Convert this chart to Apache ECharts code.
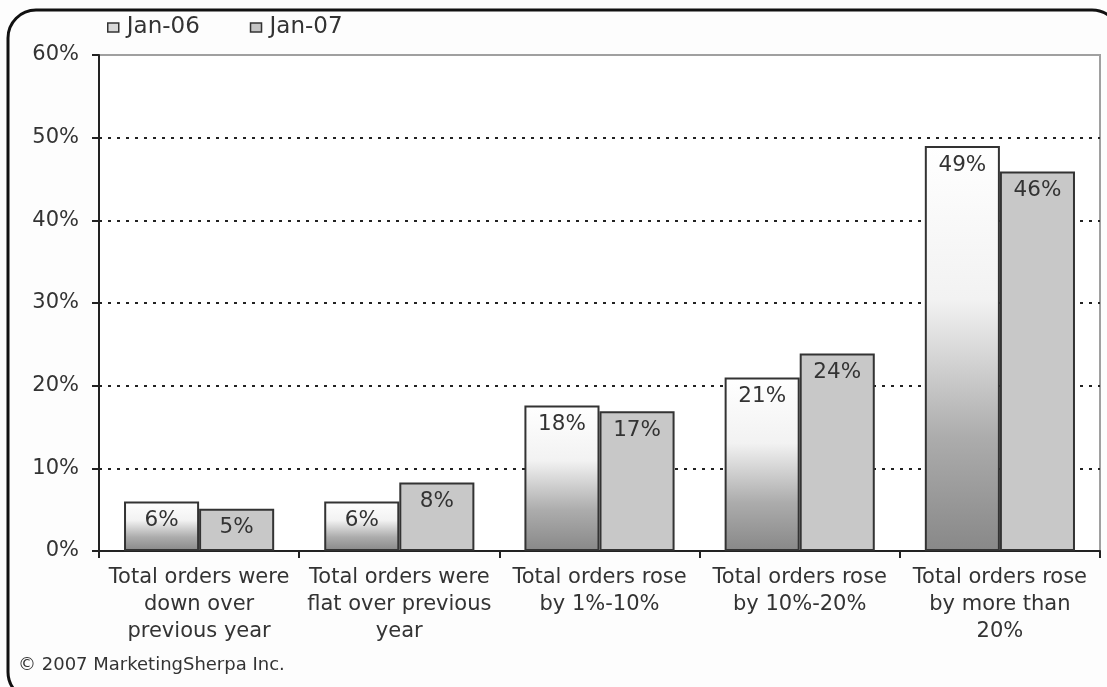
<!DOCTYPE html>
<html>
<head>
<meta charset="utf-8">
<script src="https://cdn.jsdelivr.net/npm/echarts@6/dist/echarts.min.js"></script>
<style>
html,body{margin:0;padding:0;background:#fdfdfd;}
#c{width:1107px;height:687px;}
</style>
</head>
<body>
<div id="c"></div>
<script>
const categories = [
  'Total orders were\ndown over\nprevious year',
  'Total orders were\nflat over previous\nyear',
  'Total orders rose\nby 1%-10%',
  'Total orders rose\nby 10%-20%',
  'Total orders rose\nby more than\n20%'
];
const seriesNames = ['Jan-06', 'Jan-07'];
const jan06 = [6.0, 6.0, 17.6, 21.0, 49.0];
const jan07 = [5.1, 8.3, 16.9, 23.9, 45.9];
const yTicks = [0, 10, 20, 30, 40, 50, 60];

const FONT = '"DejaVu Sans", Verdana, sans-serif';
const chart = echarts.init(document.getElementById('c'), null, {renderer: 'canvas'});

const grad06 = new echarts.graphic.LinearGradient(0, 0, 0, 1, [
  {offset: 0, color: '#ffffff'},
  {offset: 0.38, color: '#f2f2f2'},
  {offset: 0.72, color: '#acacac'},
  {offset: 1, color: '#888888'}
]);

const labelCfg = {
  show: true,
  position: 'insideTop',
  distance: 8,
  fontFamily: FONT,
  fontSize: 21.5,
  color: '#333',
  formatter: p => Math.round(p.value) + '%'
};

chart.setOption({
  animation: false,
  backgroundColor: '#fdfdfd',
  graphic: [
    {type: 'rect', shape: {x: 8, y: 10, width: 1112, height: 690, r: 28},
     style: {fill: 'none', stroke: '#111', lineWidth: 3}, z: 100},
    {type: 'text', left: 18, top: 656,
     style: {text: '© 2007 MarketingSherpa Inc.', fontFamily: FONT, fontSize: 18, fill: '#333'}}
  ],
  legend: {
    left: 102, top: 11,
    itemWidth: 11, itemHeight: 9, itemGap: 50,
    icon: 'rect',
    textStyle: {fontFamily: FONT, fontSize: 23, color: '#333', padding: [0, 0, 0, 3]},
    data: [
      {name: seriesNames[0], itemStyle: {color: '#d8d8d8', borderColor: '#333', borderWidth: 1.5}},
      {name: seriesNames[1], itemStyle: {color: '#c4c4c4', borderColor: '#333', borderWidth: 1.5}}
    ]
  },
  grid: {
    left: 99, right: 7, top: 55, bottom: 136,
    show: true, borderColor: '#a0a0a0', borderWidth: 2, backgroundColor: '#ffffff'
  },
  xAxis: {
    type: 'category',
    data: categories,
    axisLine: {lineStyle: {color: '#222', width: 2}},
    axisTick: {show: true, length: 7, lineStyle: {color: '#222', width: 2}},
    axisLabel: {fontFamily: FONT, fontSize: 21, color: '#333', lineHeight: 27, margin: 13, interval: 0}
  },
  yAxis: {
    type: 'value',
    min: 0, max: 60, interval: 10,
    axisLine: {show: true, lineStyle: {color: '#222', width: 2}},
    axisTick: {show: true, length: 7, lineStyle: {color: '#222', width: 2}},
    axisLabel: {fontFamily: FONT, fontSize: 21, color: '#333', margin: 20,
      formatter: v => yTicks.includes(v) ? v + '%' : ''},
    splitLine: {show: true, showMaxLine: false, lineStyle: {color: '#222', width: 2, type: [3, 6]}}
  },
  series: [
    {
      name: seriesNames[0], type: 'bar', data: jan06,
      barGap: '0%', barCategoryGap: '25%',
      itemStyle: {color: grad06, borderColor: '#333', borderWidth: 2},
      label: labelCfg
    },
    {
      name: seriesNames[1], type: 'bar', data: jan07,
      itemStyle: {color: '#c8c8c8', borderColor: '#333', borderWidth: 2},
      label: labelCfg
    }
  ]
});
</script>
</body>
</html>
